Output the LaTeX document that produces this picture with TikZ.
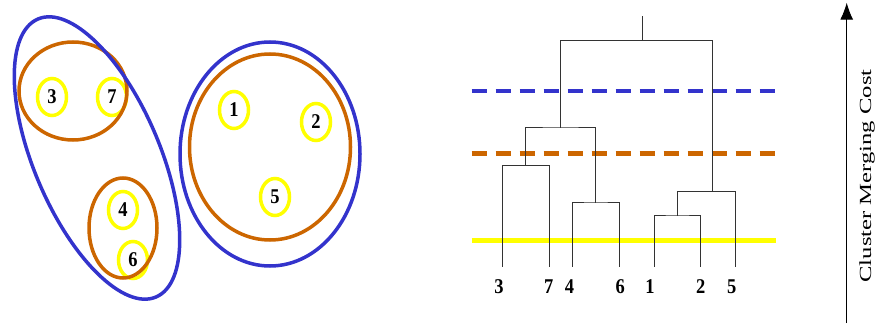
\documentclass[tikz,border=0pt]{standalone}
\usepackage{fontspec}
\setmainfont{Liberation Serif}
\usetikzlibrary{shapes.geometric,arrows.meta}

\definecolor{clblue}{HTML}{3333CC}
\definecolor{clorange}{HTML}{CC6600}
\definecolor{clyellow}{HTML}{FFFF00}
\definecolor{treeline}{HTML}{333333}

\tikzset{
  bluehull/.style={ellipse, draw=clblue, line width=3.5pt, inner sep=0pt},
  orangehull/.style={ellipse, draw=clorange, line width=3.5pt, inner sep=0pt},
  pointcirc/.style={ellipse, draw=clyellow, line width=3.5pt, inner sep=0pt,
    minimum width=29pt, minimum height=37pt},
  digit/.style={inner sep=0pt, xscale=0.88,
    font=\bfseries\fontsize{21}{24}\selectfont},
  tree/.style={draw=treeline, line width=1pt},
  cutline/.style={line width=4.5pt, dash pattern=on 15pt off 9pt},
}

\begin{document}
\begin{tikzpicture}[x=1pt,y=1pt]
\useasboundingbox (0,0) rectangle (880,324);

% ---- data points ----
\node[pointcirc] (p3) at (52,227) {};
\node[pointcirc] (p7) at (112,227) {};
\node[pointcirc] (p1) at (234,214) {};
\node[pointcirc] (p2) at (316,202) {};
\node[pointcirc] (p5) at (275,127) {};
\node[pointcirc] (p4) at (123,114) {};
\node[pointcirc] (p6) at (133,64) {};
\node[digit] (n3) at (p3) {3};
\node[digit] (n7) at (p7) {7};
\node[digit] (n1) at (p1) {1};
\node[digit] (n2) at (p2) {2};
\node[digit] (n5) at (p5) {5};
\node[digit] (n4) at (p4) {4};
\node[digit] (n6) at (p6) {6};

% ---- nested clusters ----
\node[orangehull, minimum width=108pt, minimum height=98pt] (o37) at (73,233) {};
\node[orangehull, minimum width=68pt, minimum height=100pt] (o46) at (123,96) {};
\node[orangehull, minimum width=161pt, minimum height=186pt] (o125) at (270,177) {};

\node[bluehull, minimum width=126pt, minimum height=302pt, rotate=23] (b1) at (97,166) {};
\node[bluehull, minimum width=180pt, minimum height=224pt] (b2) at (270,170) {};

% ---- cut levels ----
\coordinate (cbL) at (471.7,233);   \coordinate (cbR) at (776,233);
\coordinate (coL) at (471.7,170.3); \coordinate (coR) at (776,170.3);
\coordinate (cyL) at (471.7,83.3);  \coordinate (cyR) at (776,83.3);
\draw[cutline, clblue] (cbL) -- (cbR);
\draw[cutline, clorange] (coL) -- (coR);
\draw[line width=4.5pt, clyellow] (cyL) -- (cyR);

% ---- dendrogram ----
\coordinate (l3) at (502.7,57.3);
\coordinate (l7) at (549.3,57.3);
\coordinate (l4) at (572.7,57.3);
\coordinate (l6) at (619.3,57.3);
\coordinate (l1) at (654.3,57.3);
\coordinate (l2) at (700.7,57.3);
\coordinate (l5) at (735,57.3);

\coordinate (m37) at (525.7,158.3);
\coordinate (m46) at (595.7,121);
\coordinate (mL)  at (560.7,196);
\coordinate (m12) at (677.3,108);
\coordinate (mR)  at (712.3,132.3);
\coordinate (root) at (642,283.3);
\coordinate (top) at (642,308.3);

\draw[tree] (l3) |- (m37) -| (l7);
\draw[tree] (l4) |- (m46) -| (l6);
\draw[tree] (m37) |- (mL) -| (m46);
\draw[tree] (l1) |- (m12) -| (l2);
\draw[tree] (m12) |- (mR) -| (l5);
\draw[tree] (mL) |- (root) -| (mR);
\draw[tree] (root) -- (top);

\node[digit] (t3) at (499,37) {3};
\node[digit] (t7) at (548.8,37) {7};
\node[digit] (t4) at (569.5,37) {4};
\node[digit] (t6) at (620.3,37) {6};
\node[digit] (t1) at (650,37) {1};
\node[digit] (t2) at (700.7,37) {2};
\node[digit] (t5) at (731.7,37) {5};

% ---- cost axis ----
\coordinate (axB) at (846.7,1);
\coordinate (axT) at (846.7,321.3);
\draw[line width=1pt, -{Latex[length=17pt,width=13pt]}] (axB) -- (axT);
\node[inner sep=0pt, rotate=90, xscale=1.45, font=\fontsize{17}{20}\selectfont]
  (axlabel) at (867,148) {Cluster Merging Cost};
\end{tikzpicture}
\end{document}
